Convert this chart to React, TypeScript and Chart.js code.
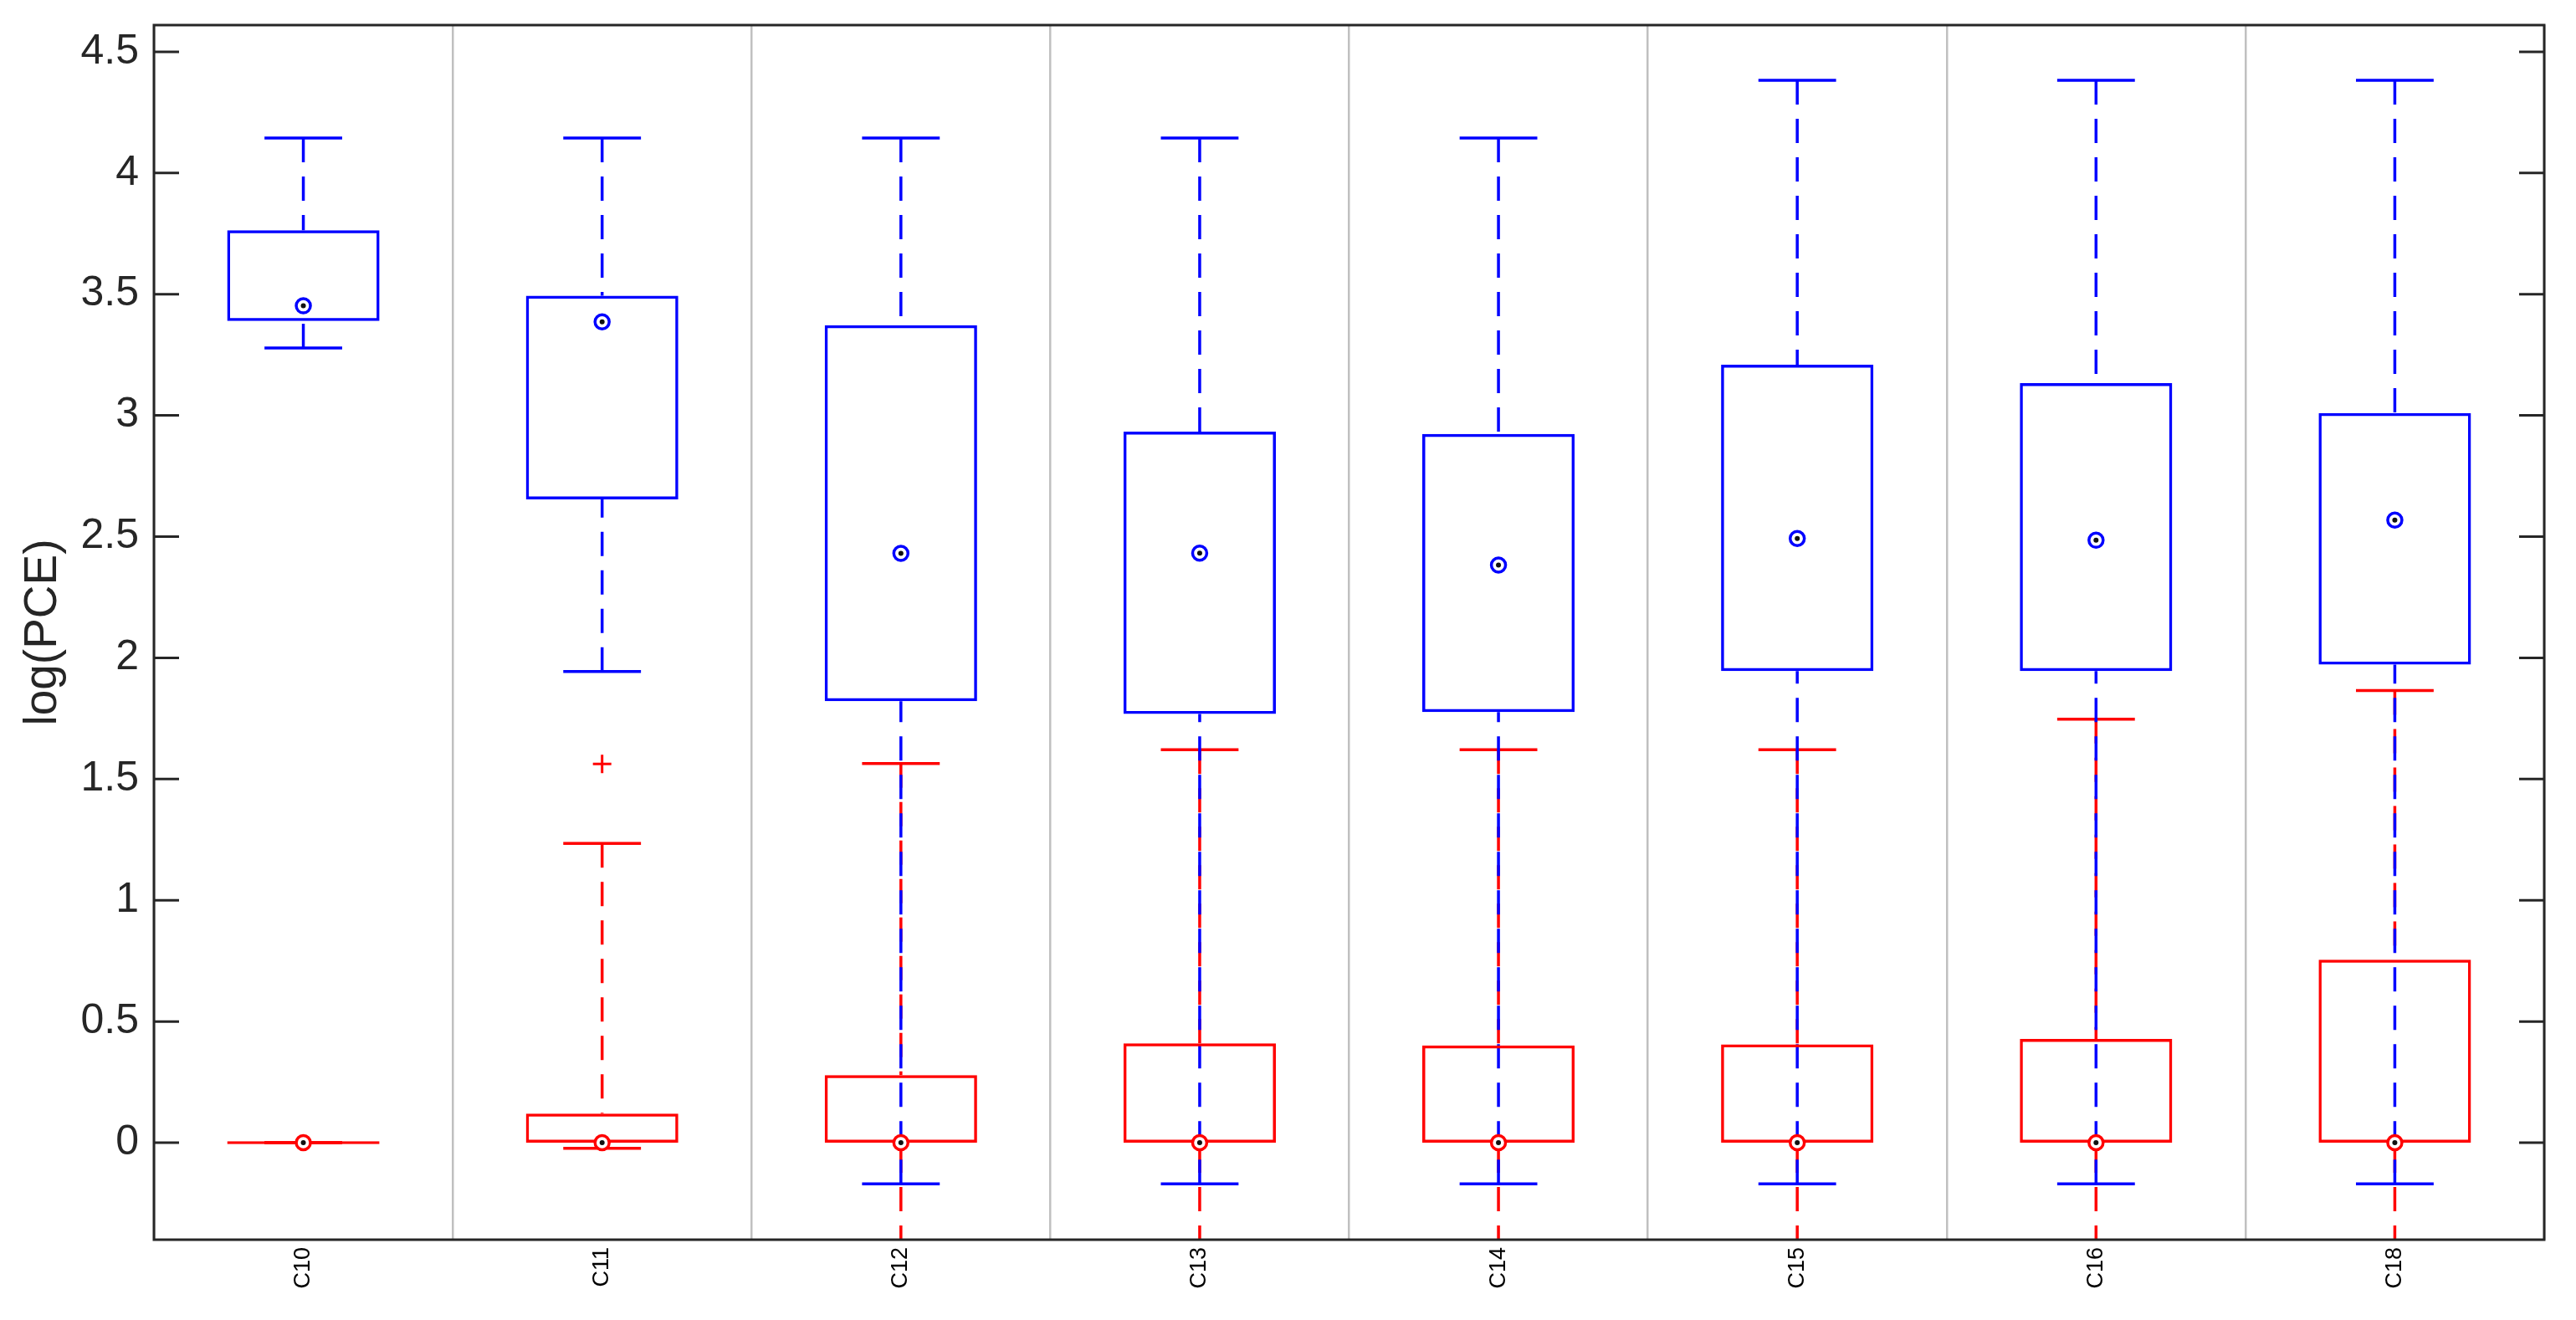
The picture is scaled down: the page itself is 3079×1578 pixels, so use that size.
import React, { useEffect, useRef } from 'react';
import { Chart, registerables } from 'chart.js';

Chart.register(...registerables);

// ---------- data ----------
const categories = ['C10', 'C11', 'C12', 'C13', 'C14', 'C15', 'C16', 'C18'];

// blue series (five-number summary)
const blueLow = [3.278, 1.944, -0.17, -0.17, -0.17, -0.17, -0.17, -0.17];
const blueQ1 = [3.389, 2.654, 1.821, 1.769, 1.776, 1.945, 1.945, 1.972];
const blueMedian = [3.452, 3.386, 2.431, 2.432, 2.383, 2.492, 2.485, 2.568];
const blueQ3 = [3.764, 3.494, 3.372, 2.933, 2.924, 3.209, 3.133, 3.01];
const blueHigh = [4.144, 4.144, 4.144, 4.144, 4.144, 4.382, 4.382, 4.382];

// red series (five-number summary)
const redLow = [0, -0.023, -0.6, -0.6, -0.6, -0.6, -0.6, -0.6];
const redQ1 = [0, 0, 0, 0, 0, 0, 0, 0];
const redMedian = [0, 0, 0, 0, 0, 0, 0, 0];
const redQ3 = [0, 0.12, 0.279, 0.41, 0.401, 0.406, 0.428, 0.755];
const redHigh = [0, 1.235, 1.564, 1.621, 1.621, 1.621, 1.747, 1.865];
const redOutliers = [null, 1.562, null, null, null, null, null, null];

const yTicks = [0, 0.5, 1, 1.5, 2, 2.5, 3, 3.5, 4, 4.5];
const yTickLabels = ['0', '0.5', '1', '1.5', '2', '2.5', '3', '3.5', '4', '4.5'];
const yMin = -0.4;
const yMax = 4.61;
const yTitle = 'log(PCE)';

// ---------- styles ----------
const BLUE = '#0000ff';
const RED = '#ff0000';
const AXIS = '#262626';
const GRID = '#c0c0c0';
const FONT = '"Liberation Sans", Arial, Helvetica, sans-serif';

const boxPlotPlugin = {
  id: 'boxPlotExtras',
  beforeDatasetsDraw(chart: any) {
    const { ctx, chartArea, scales } = chart;
    const x = scales.x;
    const y = scales.y;
    ctx.save();
    ctx.beginPath();
    ctx.rect(chartArea.left, chartArea.top, chartArea.right - chartArea.left, chartArea.bottom - chartArea.top);
    ctx.clip();
    const catW = x.getPixelForValue(1) - x.getPixelForValue(0);
    const capHalf = catW * 0.13;
    const series = [
      { color: RED, low: redLow, q1: redQ1, q3: redQ3, high: redHigh },
      { color: BLUE, low: blueLow, q1: blueQ1, q3: blueQ3, high: blueHigh },
    ];
    const seg = (x1: number, y1: number, x2: number, y2: number) => {
      ctx.beginPath();
      ctx.moveTo(x1, y1);
      ctx.lineTo(x2, y2);
      ctx.stroke();
    };
    for (const s of series) {
      ctx.strokeStyle = s.color;
      ctx.lineWidth = 3.5;
      ctx.lineCap = 'butt';
      categories.forEach((_, i) => {
        const px = x.getPixelForValue(i);
        const yHigh = y.getPixelForValue(s.high[i]);
        const yQ3 = y.getPixelForValue(s.q3[i]);
        const yLow = y.getPixelForValue(s.low[i]);
        const yQ1 = y.getPixelForValue(s.q1[i]);
        ctx.setLineDash([29, 17]);
        if (yQ3 - yHigh > 0.5) seg(px, yHigh, px, yQ3);
        if (yLow - yQ1 > 0.5) seg(px, yLow, px, yQ1);
        ctx.setLineDash([]);
        seg(px - capHalf, yHigh, px + capHalf, yHigh);
        seg(px - capHalf, yLow, px + capHalf, yLow);
      });
    }
    ctx.restore();
  },
  afterDraw(chart: any) {
    const { ctx, chartArea, scales } = chart;
    const y = scales.y;
    ctx.save();
    ctx.strokeStyle = AXIS;
    ctx.lineWidth = 3;
    ctx.setLineDash([]);
    for (const v of yTicks) {
      const py = y.getPixelForValue(v);
      ctx.beginPath();
      ctx.moveTo(chartArea.left, py);
      ctx.lineTo(chartArea.left + 30, py);
      ctx.moveTo(chartArea.right, py);
      ctx.lineTo(chartArea.right - 30, py);
      ctx.stroke();
    }
    ctx.lineWidth = 3;
    ctx.strokeRect(chartArea.left, chartArea.top, chartArea.right - chartArea.left, chartArea.bottom - chartArea.top);
    ctx.restore();
  },
};

export default function App() {
  const canvasRef = useRef<HTMLCanvasElement | null>(null);

  useEffect(() => {
    document.body.style.margin = '0';
    const canvas = canvasRef.current;
    if (!canvas) return;

    const chart = new Chart(canvas, {
      type: 'bar',
      data: {
        labels: categories,
        datasets: [
          {
            type: 'line',
            label: 'blue median dot',
            data: blueMedian,
            showLine: false,
            pointRadius: 3,
            pointBackgroundColor: '#111111',
            pointBorderWidth: 0,
            order: -2,
          } as any,
          {
            type: 'line',
            label: 'red median dot',
            data: redMedian,
            showLine: false,
            pointRadius: 3,
            pointBackgroundColor: '#111111',
            pointBorderWidth: 0,
            order: -2,
          } as any,
          {
            type: 'line',
            label: 'blue median',
            data: blueMedian,
            showLine: false,
            pointRadius: 8.5,
            pointBackgroundColor: '#ffffff',
            pointBorderColor: BLUE,
            pointBorderWidth: 3.5,
            order: -1,
          } as any,
          {
            type: 'line',
            label: 'red median',
            data: redMedian,
            showLine: false,
            pointRadius: 8.5,
            pointBackgroundColor: '#ffffff',
            pointBorderColor: RED,
            pointBorderWidth: 3.5,
            order: -1,
          } as any,
          {
            type: 'line',
            label: 'red outliers',
            data: redOutliers,
            showLine: false,
            pointStyle: 'cross',
            pointRadius: 11,
            pointBorderColor: RED,
            pointBorderWidth: 3,
            order: -1,
          } as any,
          {
            type: 'bar',
            label: 'blue box',
            data: categories.map((_, i) => [blueQ1[i], blueQ3[i]]),
            backgroundColor: 'rgba(0,0,0,0)',
            borderColor: BLUE,
            borderWidth: 3.5,
            borderSkipped: false,
            grouped: false,
            barPercentage: 0.51,
            categoryPercentage: 1,
            minBarLength: 3.5,
            order: 1,
          } as any,
          {
            type: 'bar',
            label: 'red box',
            data: categories.map((_, i) => [redQ1[i], redQ3[i]]),
            backgroundColor: 'rgba(0,0,0,0)',
            borderColor: RED,
            borderWidth: 3.5,
            borderSkipped: false,
            grouped: false,
            barPercentage: 0.51,
            categoryPercentage: 1,
            minBarLength: 3.5,
            order: 2,
          } as any,
        ],
      },
      options: {
        responsive: false,
        animation: false,
        devicePixelRatio: 1,
        events: [],
        layout: { padding: { top: 30, right: 38, left: 0, bottom: 0 } },
        plugins: {
          legend: { display: false },
          tooltip: { enabled: false },
        },
        scales: {
          x: {
            type: 'category',
            offset: true,
            grid: { display: true, color: GRID, lineWidth: 2.5, drawTicks: false, offset: true },
            border: { display: false },
            ticks: {
              autoSkip: false,
              minRotation: 90,
              maxRotation: 90,
              padding: 9,
              color: '#000000',
              font: { family: FONT, size: 27 },
            },
            afterFit: (scale: any) => {
              scale.height = 96;
              scale.paddingLeft = 0;
              scale.paddingRight = 0;
            },
          },
          y: {
            type: 'linear',
            min: yMin,
            max: yMax,
            grid: { display: false, drawTicks: false },
            border: { display: false },
            afterBuildTicks: (scale: any) => {
              scale.ticks = yTicks.map((v) => ({ value: v }));
            },
            ticks: {
              padding: 18,
              color: AXIS,
              font: { family: FONT, size: 50 },
              callback: (value: any) => {
                const idx = yTicks.findIndex((t) => Math.abs(t - Number(value)) < 1e-9);
                return idx >= 0 ? yTickLabels[idx] : '';
              },
            },
            title: {
              display: true,
              text: yTitle,
              color: AXIS,
              font: { family: FONT, size: 55 },
              padding: { top: 19, bottom: 0 },
            },
            afterFit: (scale: any) => {
              scale.width = 184;
              scale.paddingTop = 0;
              scale.paddingBottom = 0;
            },
          },
        },
      },
      plugins: [boxPlotPlugin],
    } as any);

    return () => {
      chart.destroy();
    };
  }, []);

  return (
    <div style={{ width: 3079, height: 1578, background: '#ffffff' }}>
      <canvas ref={canvasRef} width={3079} height={1578} style={{ display: 'block', width: 3079, height: 1578 }} />
    </div>
  );
}
